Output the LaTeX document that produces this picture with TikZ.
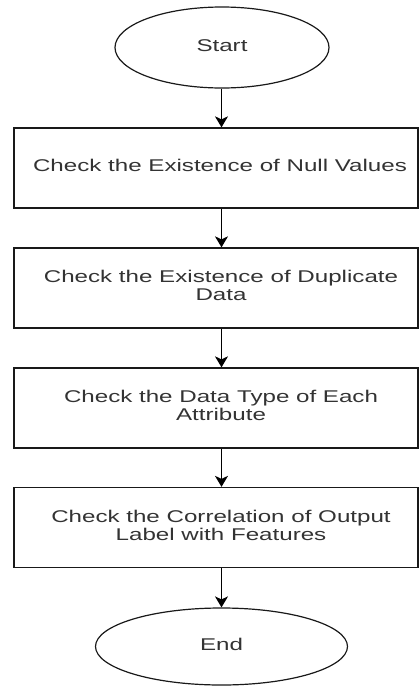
\documentclass[tikz,border=0pt]{standalone}
\usepackage{fontspec}
\setmainfont{Liberation Sans}
\usetikzlibrary{shapes.geometric,arrows.meta}
\newcommand\wtext[1]{\scalebox{1.42}[1]{\begin{tabular}{@{}c@{}}#1\end{tabular}}}
\begin{document}
\begin{tikzpicture}[x=1pt,y=-1pt,
  txt/.style={font=\fontsize{17}{18}\selectfont, text=black!80, inner sep=0pt},
  box/.style={txt, draw=black!90, line width=1.3pt, rectangle, minimum width=404pt, minimum height=80pt},
  term/.style={txt, draw=black!90, line width=1.2pt, ellipse},
  arr/.style={line width=1.3pt, draw=black, -{Stealth[length=11pt,width=13pt,inset=3pt]}}]
\useasboundingbox[fill=white] (0,0) rectangle (419,686);
\node[term, minimum width=214pt, minimum height=81pt] (start) at (222,47.5) {\wtext{Start}};
\node[box] (b1) at (216,168) {\hspace*{8pt}\wtext{Check the Existence of Null Values}};
\node[box] (b2) at (216,288) {\hspace*{10pt}\wtext{Check the Existence of Duplicate\\Data}};
\node[box] (b3) at (216,408) {\hspace*{10pt}\wtext{Check the Data Type of Each\\Attribute}};
\node[box] (b4) at (216,527.5) {\hspace*{10pt}\wtext{Check the Correlation of Output\\Label with Features}};
\node[term, minimum width=252pt, minimum height=77pt] (end) at (221.5,646.5) {\wtext{End}};
\coordinate (col) at (221.5,0);
\draw[arr] (col |- start.south) -- (col |- b1.north);
\draw[arr] (col |- b1.south) -- (col |- b2.north);
\draw[arr] (col |- b2.south) -- (col |- b3.north);
\draw[arr] (col |- b3.south) -- (col |- b4.north);
\draw[arr] (col |- b4.south) -- (end.north);
\end{tikzpicture}
\end{document}
